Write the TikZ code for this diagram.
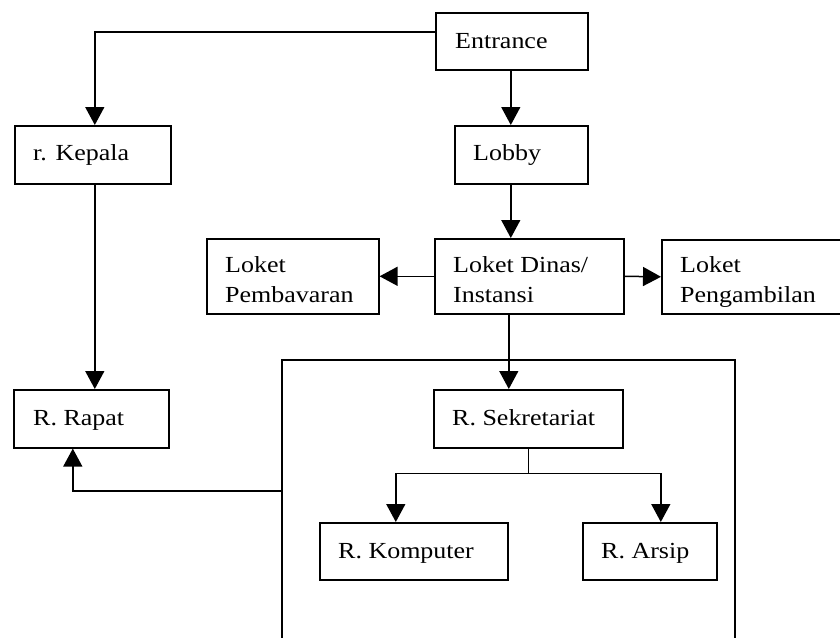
\documentclass[tikz,border=0pt]{standalone}
\usepackage{fontspec}
\setmainfont{Liberation Serif}[FakeStretch=1.13]
\usetikzlibrary{arrows.meta,calc}

\tikzset{
  room/.style={draw, line width=1.6pt, inner sep=0pt, anchor=north west},
  lbl/.style={inner sep=0pt, anchor=base west, align=left,
              font=\fontsize{23}{30}\selectfont},
  link/.style={line width=1.5pt},
  arr/.style={link, -{Triangle[length=18pt,width=19pt]}},
}

% box from left/top corner with given width and height (y grows downwards)
\newcommand{\roomat}[5]{%
  \node[room, minimum width=#4pt, minimum height=#5pt] (#1) at (#2,#3) {};}

\begin{document}
\begin{tikzpicture}[x=1pt,y=-1pt]
  \clip (0,0) rectangle (840,637);
  \fill[white] (0,0) rectangle (840,637);

  % rooms
  \roomat{ent}{435}{12}{152}{57}
  \roomat{kep}{14}{125}{156}{58}
  \roomat{lob}{454}{125}{133}{58}
  \roomat{pem}{206}{238}{172}{75}
  \roomat{din}{434}{238}{189}{75}
  \roomat{pen}{661}{239}{200}{74}
  \roomat{rap}{13}{389}{155}{58}
  \roomat{sek}{433}{389}{189}{58}
  \roomat{kom}{319}{522}{188}{57}
  \roomat{ars}{582}{522}{134}{57}

  % room names (two-line names sit on the baseline of their last line)
  \node[lbl] (tent) at ($(ent.north west)+(20,36)$) {Entrance};
  \node[lbl] (tkep) at ($(kep.north west)+(19,35)$) {r. Kepala};
  \node[lbl] (tlob) at ($(lob.north west)+(19,35)$) {Lobby};
  \node[lbl] (tpem) at ($(pem.north west)+(19,64)$) {Loket\\Pembavaran};
  \node[lbl] (tdin) at ($(din.north west)+(19,64)$) {Loket Dinas/\\Instansi};
  \node[lbl] (tpen) at ($(pen.north west)+(19,63)$) {Loket\\Pengambilan};
  \node[lbl] (trap) at ($(rap.north west)+(20,36)$) {R. Rapat};
  \node[lbl] (tsek) at ($(sek.north west)+(19,36)$) {R. Sekretariat};
  \node[lbl] (tkom) at ($(kom.north west)+(19,36)$) {R. Komputer};
  \node[lbl] (tars) at ($(ars.north west)+(19,36)$) {R. Arsip};

  % open frame around the secretariat wing
  \draw[link] (282,650) -- (282,360) -- (735,360) -- (735,650);
  \coordinate (wing) at (282,491);

  % circulation
  \coordinate (spine) at ($(ent.south)+(-1,0)$);
  \draw[arr] ([yshift=9.5pt]ent.west) -| ([xshift=2pt]kep.north);
  \draw[arr] (spine) -- (spine |- lob.north);
  \draw[arr] (spine |- lob.south) -- (spine |- din.north);
  \draw[arr] (din.west) -- (pem.east);
  \draw[arr] (din.east) -- (pen.west);
  \draw[arr] ($(spine |- din.south)+(-2,0)$) -- ($(spine |- sek.north)+(-2,0)$);
  \draw[arr] ([xshift=2pt]kep.south) -- ([xshift=3.5pt]rap.north);
  \draw[arr] (wing) -| ([xshift=-18.5pt]rap.south);
  \draw[link] (sek.south) -- ++(0,25) coordinate (fork);
  \draw[arr] (fork) -| ([xshift=-18pt]kom.north);
  \draw[arr] (fork) -| ([xshift=11pt]ars.north);
\end{tikzpicture}
\end{document}
